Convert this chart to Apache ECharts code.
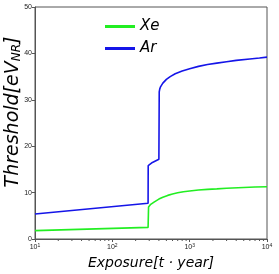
<!DOCTYPE html>
<html><head><meta charset="utf-8">
<script src="https://cdn.jsdelivr.net/npm/echarts@6/dist/echarts.min.js"></script>
<style>html,body{margin:0;padding:0;background:#fff}#c{width:279px;height:274px}</style>
</head><body><div id="c"></div>
<script>
const xeData = [[10,1.8],[290,2.5],[294,6.9],[310,7.4],[350,8.0],[400,8.6],[450,9.0],[520,9.4],[600,9.7],[700,9.95],[830,10.2],[1000,10.35],[1300,10.55],[1700,10.7],[2245,10.8],[3000,10.95],[5000,11.1],[7000,11.2],[10000,11.25]];
const arData = [[10,5.4],[290,7.7],[291,15.8],[330,16.5],[400,17.2],[404,31.7],[410,32.3],[420,32.8],[450,33.6],[500,34.4],[560,35.0],[650,35.6],[800,36.2],[1000,36.7],[1300,37.2],[1700,37.6],[2245,37.9],[3000,38.2],[4000,38.5],[6000,38.8],[8000,39.0],[10000,39.2]];
const seriesNames = ['Xe','Ar'];
const yTicks = [0,10,20,30,40,50];
const xExp = {10:'1',100:'2',1000:'3',10000:'4'};
const minorTicks = [];
[10,100,1000].forEach(d=>{for(let k=2;k<=9;k++) minorTicks.push(d*k);});
const chart = echarts.init(document.getElementById('c'));
chart.setOption({
  animation:false,
  grid:{left:35,right:12,top:7,bottom:35,show:true,borderColor:'#555',borderWidth:1,outerBoundsMode:'none',containLabel:false},
  legend:{top:14,left:100,orient:'vertical',itemWidth:30,itemHeight:3,itemGap:7,icon:'rect',
    textStyle:{fontStyle:'italic',fontSize:15,color:'#000',fontFamily:'DejaVu Sans'},
    data:seriesNames},
  xAxis:{type:'log',logBase:10,min:10,max:10000,
    axisLine:{lineStyle:{color:'#555'}},
    axisTick:{length:3,inside:false,lineStyle:{color:'#555'}},
    splitLine:{show:false},
    axisLabel:{fontSize:7,color:'#222',margin:4,
      formatter:v=>'{b|10}{s|'+(xExp[Math.round(v)]||'')+'}',
      rich:{b:{fontSize:7,color:'#222'},s:{fontSize:5,color:'#222',verticalAlign:'top',padding:[0,0,4,0]}}},
    name:'Exposure[t · year]',nameLocation:'middle',nameGap:17,nameMoveOverlap:false,
    nameTextStyle:{fontStyle:'italic',fontSize:14,color:'#000',fontFamily:'DejaVu Sans'}},
  yAxis:{type:'value',min:0,max:50,interval:10,
    axisLine:{show:true,lineStyle:{color:'#555'}},
    axisTick:{show:true,length:3,lineStyle:{color:'#555'}},
    splitLine:{show:false},
    axisLabel:{fontSize:7,color:'#222',margin:3},
    name:'{a|Threshold[eV}{s|NR}{a|]}',nameLocation:'middle',nameGap:12,nameMoveOverlap:false,
    nameTextStyle:{padding:[0,0,0,22],rich:{a:{fontStyle:'italic',fontSize:19,color:'#000',fontFamily:'DejaVu Sans'},
      s:{fontStyle:'italic',fontSize:12,color:'#000',fontFamily:'DejaVu Sans',verticalAlign:'bottom',padding:[8,0,0,0]}}}},
  series:[
    {name:'Xe',type:'line',data:xeData,showSymbol:false,lineStyle:{color:'#22ee22',width:1.6},itemStyle:{color:'#22ee22'}},
    {name:'Ar',type:'line',data:arData,showSymbol:false,lineStyle:{color:'#1515e8',width:1.6},itemStyle:{color:'#1515e8'}},
    {type:'custom',silent:true,clip:false,data:minorTicks.map(v=>[v,0]),
      renderItem:(params,api)=>{const p=api.coord([api.value(0),0]);
        return {type:'line',shape:{x1:p[0],y1:p[1],x2:p[0],y2:p[1]+2},style:{stroke:'#555',lineWidth:1}};}}
  ]
});
</script></body></html>
